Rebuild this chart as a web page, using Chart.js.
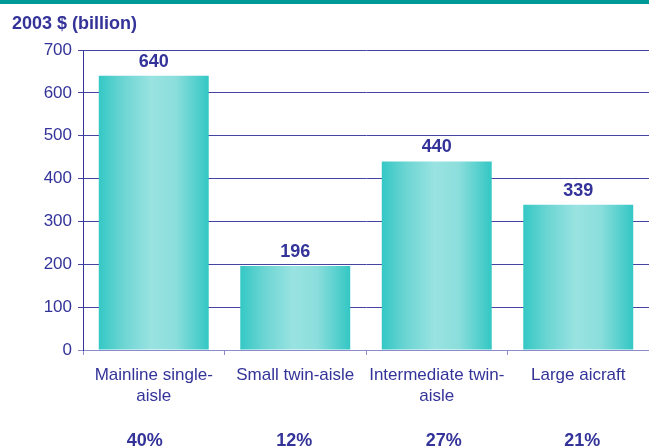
<!DOCTYPE html>
<html>
<head>
<meta charset="utf-8">
<script src="https://cdn.jsdelivr.net/npm/chart.js@4/dist/chart.umd.min.js"></script>
<style>
  html, body { margin: 0; padding: 0; background: #fff; }
  #wrap { width: 649px; height: 446px; position: relative; }
</style>
</head>
<body>
<div id="wrap"><canvas id="market"></canvas></div>
<script>
// aircraft categories, values in 2003 $ billion, share of total
const categories = [
    ['Mainline single-', 'aisle'],
    ['Small twin-aisle'],
    ['Intermediate twin-', 'aisle'],
    ['Large aicraft']
];
const values = [640, 196, 440, 339];
const shares = ['40%', '12%', '27%', '21%'];
const yTicks = [0, 100, 200, 300, 400, 500, 600, 700];

const navy = '#333399';
const font = '"Liberation Sans", Arial, sans-serif';
// the share text boxes sit a little off the bar centres
const shareNudge = [-9, -1, 7, 4];

// horizontal cylinder-style shading across each bar
function barFill(c) {
    const chart = c.chart;
    const xs = chart.scales.x;
    if (!xs || !chart.chartArea) return '#5fd3d0';
    const cx = xs.getPixelForValue(c.dataIndex);
    const w = xs.width / categories.length * 0.777;
    const g = chart.ctx.createLinearGradient(cx - w / 2, 0, cx + w / 2, 0);
    g.addColorStop(0, '#34c8c5');
    g.addColorStop(0.22, '#6cd5d3');
    g.addColorStop(0.48, '#99e3e1');
    g.addColorStop(0.7, '#8bdedc');
    g.addColorStop(1, '#33c7c4');
    return g;
}

const extras = {
    id: 'extras',
    beforeDraw(chart) {
        const ctx = chart.ctx;
        ctx.save();
        ctx.fillStyle = '#009a96';
        ctx.fillRect(0, 0, chart.width, 4);
        ctx.fillStyle = navy;
        ctx.font = 'bold 18px ' + font;
        ctx.textBaseline = 'middle';
        ctx.textAlign = 'left';
        ctx.fillText('2003 $ (billion)', 12, 24);
        ctx.restore();
    },
    afterDatasetsDraw(chart) {
        const ctx = chart.ctx;
        const meta = chart.getDatasetMeta(0);
        ctx.save();
        ctx.fillStyle = navy;
        ctx.font = 'bold 18px ' + font;
        ctx.textAlign = 'center';
        meta.data.forEach((bar, i) => {
            ctx.textBaseline = 'bottom';
            ctx.fillText(values[i], bar.x, bar.y - 5);
            ctx.textBaseline = 'middle';
            ctx.fillText(shares[i], bar.x + shareNudge[i], 441);
        });
        ctx.restore();
    }
};

new Chart(document.getElementById('market'), {
    type: 'bar',
    data: {
        labels: categories,
        datasets: [{
            data: values,
            backgroundColor: barFill,
            borderWidth: 0,
            categoryPercentage: 1,
            barPercentage: 0.777
        }]
    },
    options: {
        responsive: true,
        maintainAspectRatio: false,
        animation: false,
        layout: { padding: { top: 50, left: 12, right: 0, bottom: 0 } },
        plugins: {
            legend: { display: false },
            tooltip: { enabled: false }
        },
        scales: {
            x: {
                afterFit(s) { s.height = 96; },
                grid: {
                    offset: true,
                    drawOnChartArea: false,
                    drawTicks: true,
                    tickLength: 5,
                    color: '#8c8cc8'
                },
                border: { color: '#8c8cc8' },
                ticks: {
                    color: navy,
                    padding: 10,
                    maxRotation: 0,
                    autoSkip: false,
                    font: { family: font, size: 17, lineHeight: '21px' }
                }
            },
            y: {
                min: 0,
                max: 700,
                afterFit(s) { s.width = 71; },
                afterBuildTicks(s) { s.ticks = yTicks.map(v => ({ value: v })); },
                grid: {
                    color: c => c.tick && c.tick.value === 0 ? '#8c8cc8' : '#4444a2',
                    tickLength: 5
                },
                border: { color: navy },
                ticks: {
                    color: navy,
                    padding: 6,
                    font: { family: font, size: 17 }
                }
            }
        }
    },
    plugins: [extras]
});
</script>
</body>
</html>
